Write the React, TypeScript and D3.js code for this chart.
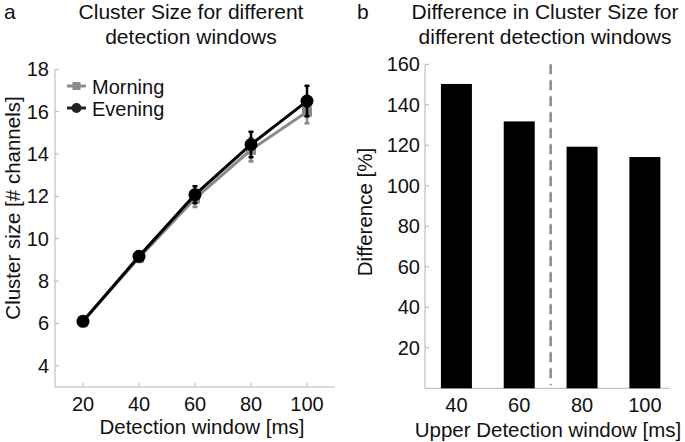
import React from "react";
import * as d3 from "d3";

const windows = [20, 40, 60, 80, 100];
const morning = [6.1, 9.1, 11.9, 14.2, 16.0];
const morningErr = [0.15, 0.2, 0.4, 0.55, 0.55];
const evening = [6.1, 9.17, 12.08, 14.45, 16.5];
const eveningErr = [0.15, 0.2, 0.4, 0.6, 0.72];
const leftYTicks = [4, 6, 8, 10, 12, 14, 16, 18];

const upperWindows = ["40", "60", "80", "100"];
const differences = [150.3, 131.8, 119.3, 114.2];
const rightYTicks = [20, 40, 60, 80, 100, 120, 140, 160];

const FONT = "'Liberation Sans', Arial, Helvetica, sans-serif";
const AXIS = "#b4b4b4";
const GRAY = "#8a8a8a";
const TXT = "#111";

export default function App() {
  // left panel
  const xL = d3.scaleLinear().domain([10, 110]).range([55, 335]);
  const yL = d3.scaleLinear().domain([3, 18]).range([387, 69.3]);
  const line = d3
    .line<number>()
    .x((_, i) => xL(windows[i]))
    .y((d) => yL(d));

  // right panel
  const xR = d3.scaleLinear().domain([0.5, 4.4]).range([425, 670]);
  const yR = d3.scaleLinear().domain([0, 160]).range([388.3, 64.3]);
  const barW = 31;

  const errBars = (vals: number[], errs: number[], color: string) =>
    vals.map((v, i) => {
      const x = xL(windows[i]);
      const y0 = yL(v - errs[i]);
      const y1 = yL(v + errs[i]);
      return (
        <g key={i} stroke={color} strokeWidth={2.5}>
          <line x1={x} x2={x} y1={y0} y2={y1} />
          <line x1={x - 2.5} x2={x + 2.5} y1={y0} y2={y0} />
          <line x1={x - 2.5} x2={x + 2.5} y1={y1} y2={y1} />
        </g>
      );
    });

  return (
    <svg
      width={685}
      height={442}
      style={{ position: "absolute", left: 0, top: 0, background: "#fff" }}
      fontFamily={FONT}
    >
      <rect width={685} height={442} fill="#fff" />
      {/* Panel letters and titles */}
      <text x={4} y={19} fontSize={21} fill={TXT}>a</text>
      <text x={191} y={19} fontSize={21} fill={TXT} textAnchor="middle">
        Cluster Size for different
      </text>
      <text x={191} y={44} fontSize={21} fill={TXT} textAnchor="middle">
        detection windows
      </text>
      <text x={357} y={19} fontSize={21} fill={TXT}>b</text>
      <text x={545} y={19} fontSize={21} fill={TXT} textAnchor="middle">
        Difference in Cluster Size for
      </text>
      <text x={545} y={44} fontSize={21} fill={TXT} textAnchor="middle">
        different detection windows
      </text>

      {/* Left axes */}
      <g stroke={AXIS} strokeWidth={1}>
        <line x1={55} x2={55} y1={yL(18)} y2={yL(3)} />
        <line x1={55} x2={335} y1={yL(3)} y2={yL(3)} />
        {leftYTicks.map((t) => (
          <line key={t} x1={55} x2={59} y1={yL(t)} y2={yL(t)} />
        ))}
        {windows.map((t) => (
          <line key={t} x1={xL(t)} x2={xL(t)} y1={yL(3)} y2={yL(3) - 4} />
        ))}
      </g>
      {leftYTicks.map((t) => (
        <text key={t} x={49} y={yL(t) + 7} fontSize={20} textAnchor="end" fill={TXT}>
          {t}
        </text>
      ))}
      {windows.map((t) => (
        <text key={t} x={xL(t)} y={411} fontSize={20} textAnchor="middle" fill={TXT}>
          {t}
        </text>
      ))}
      <text x={202} y={434} fontSize={20.5} textAnchor="middle" fill={TXT}>
        Detection window [ms]
      </text>
      <text
        transform={`translate(20,208) rotate(-90)`}
        fontSize={20.5}
        textAnchor="middle"
        fill={TXT}
      >
        Cluster size [# channels]
      </text>

      {/* Morning series */}
      {errBars(morning, morningErr, GRAY)}
      <path d={line(morning) || ""} fill="none" stroke={GRAY} strokeWidth={3} />
      {morning.map((v, i) => (
        <rect key={i} x={xL(windows[i]) - 5} y={yL(v) - 5} width={10} height={10} fill={GRAY} />
      ))}
      {/* Evening series */}
      {errBars(evening, eveningErr, "#000")}
      <path d={line(evening) || ""} fill="none" stroke="#000" strokeWidth={3} />
      {evening.map((v, i) => (
        <circle key={i} cx={xL(windows[i])} cy={yL(v)} r={6.5} fill="#000" />
      ))}

      {/* Legend */}
      <line x1={67} x2={86} y1={86} y2={86} stroke={GRAY} strokeWidth={3} />
      <rect x={72.5} y={82} width={8} height={8} fill={GRAY} />
      <text x={92} y={94} fontSize={20} fill={TXT}>Morning</text>
      <line x1={67} x2={86} y1={108} y2={108} stroke="#222" strokeWidth={3} />
      <circle cx={76.5} cy={108} r={5} fill="#222" />
      <text x={92} y={115.5} fontSize={20} fill={TXT}>Evening</text>

      {/* Right axes */}
      <g stroke={AXIS} strokeWidth={1}>
        <line x1={425} x2={425} y1={yR(160)} y2={yR(0)} />
        <line x1={425} x2={670} y1={yR(0)} y2={yR(0)} />
        {rightYTicks.map((t) => (
          <line key={t} x1={425} x2={429} y1={yR(t)} y2={yR(t)} />
        ))}
      </g>
      {differences.map((v, i) => (
        <rect
          key={i}
          x={xR(i + 1) - barW / 2}
          y={yR(v)}
          width={barW}
          height={yR(0) - yR(v)}
          fill="#000"
        />
      ))}
      <line
        x1={xR(2.5)}
        x2={xR(2.5)}
        y1={yR(160)}
        y2={yR(0) - 3}
        stroke={GRAY}
        strokeWidth={2.5}
        strokeDasharray="10,6"
      />
      {rightYTicks.map((t) => (
        <text key={t} x={420} y={yR(t) + 7} fontSize={20} textAnchor="end" fill={TXT}>
          {t}
        </text>
      ))}
      {upperWindows.map((t, i) => (
        <text key={t} x={xR(i + 1)} y={412} fontSize={20} textAnchor="middle" fill={TXT}>
          {t}
        </text>
      ))}
      <text x={548} y={437} fontSize={20.5} textAnchor="middle" fill={TXT}>
        Upper Detection window [ms]
      </text>
      <text
        transform={`translate(372,212) rotate(-90)`}
        fontSize={20.5}
        textAnchor="middle"
        fill={TXT}
      >
        Difference [%]
      </text>
    </svg>
  );
}
